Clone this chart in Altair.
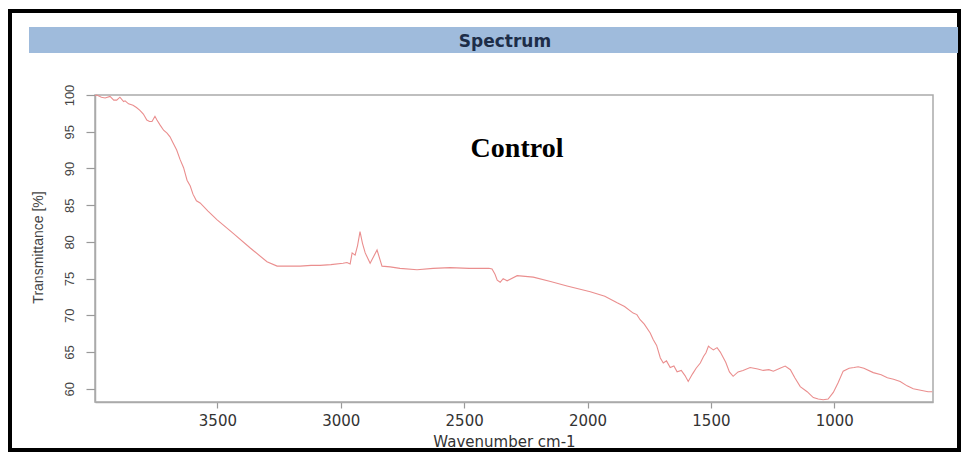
import altair as alt
import pandas as pd

# Spectrum values (wavenumber cm-1, transmittance %)
wavenumber = [3996, 3989, 3970, 3955, 3935, 3920, 3908, 3895, 3880, 3874, 3860, 3842,
              3828, 3814, 3800, 3786, 3775, 3765, 3753, 3745, 3732, 3718, 3704, 3692,
              3680, 3665, 3651, 3637, 3623, 3610, 3599, 3585, 3570, 3538, 3501, 3437,
              3368, 3299, 3258, 3200, 3165, 3120, 3084, 3040, 2991, 2975, 2962, 2954,
              2942, 2932, 2922, 2912, 2901, 2881, 2853, 2833, 2800, 2760, 2691, 2626,
              2557, 2480, 2400, 2387, 2375, 2366, 2354, 2342, 2326, 2285, 2220, 2150,
              2083, 1989, 1930, 1880, 1850, 1815, 1800, 1787, 1770, 1746, 1734, 1720,
              1705, 1693, 1680, 1665, 1650, 1637, 1620, 1605, 1592, 1575, 1560, 1543,
              1530, 1520, 1510, 1503, 1490, 1475, 1462, 1440, 1425, 1410, 1390, 1370,
              1341, 1310, 1288, 1265, 1247, 1220, 1199, 1178, 1160, 1138, 1110, 1085,
              1065, 1045, 1025, 1004, 985, 964, 940, 920, 903, 880, 842, 810, 785, 760,
              733, 705, 680, 650, 620, 603]
transmittance = [99.9, 100.0, 99.7, 99.6, 99.8, 99.3, 99.3, 99.7, 99.1, 99.2, 98.8, 98.6,
                 98.3, 97.9, 97.4, 96.6, 96.4, 96.4, 97.1, 96.6, 95.9, 95.2, 94.8, 94.3,
                 93.5, 92.5, 91.2, 90.1, 88.4, 87.6, 86.5, 85.6, 85.3, 84.2, 83.0, 81.2,
                 79.2, 77.3, 76.7, 76.7, 76.7, 76.8, 76.8, 76.9, 77.1, 77.2, 77.0, 78.5,
                 78.2, 79.5, 81.4, 79.8, 78.5, 77.1, 78.9, 76.7, 76.6, 76.4, 76.2, 76.4,
                 76.5, 76.4, 76.4, 76.3, 75.6, 74.8, 74.5, 75.0, 74.7, 75.4, 75.2, 74.6,
                 74.0, 73.2, 72.6, 71.7, 71.2, 70.3, 70.1, 69.4, 68.8, 67.6, 66.7, 65.9,
                 64.2, 63.5, 63.8, 62.9, 63.1, 62.3, 62.5, 61.8, 61.0, 62.0, 62.8, 63.5,
                 64.4, 64.9, 65.8, 65.6, 65.3, 65.6, 65.0, 63.6, 62.3, 61.7, 62.3, 62.5,
                 62.9, 62.7, 62.5, 62.6, 62.4, 62.8, 63.1, 62.6, 61.5, 60.3, 59.6, 58.8,
                 58.6, 58.5, 58.6, 59.5, 60.8, 62.4, 62.8, 62.9, 63.0, 62.8, 62.2, 61.9,
                 61.5, 61.3, 61.0, 60.4, 60.0, 59.8, 59.6, 59.6]

x_ticks = [1000, 1500, 2000, 2500, 3000, 3500]
y_ticks = [60, 65, 70, 75, 80, 85, 90, 95, 100]

spec = pd.DataFrame({"w": wavenumber, "t": transmittance})
one = pd.DataFrame({"a": [0]})

line = alt.Chart(spec).mark_line(color="#ea8e8e", strokeWidth=1.1).encode(
    x=alt.X("w:Q",
            scale=alt.Scale(domain=[600, 3996], reverse=True, nice=False, zero=False),
            axis=alt.Axis(values=x_ticks, title="Wavenumber cm-1", format="d",
                          labelFont="DejaVu Sans", labelFontSize=15, labelColor="#333333",
                          tickSize=6, labelPadding=5,
                          titleFont="DejaVu Sans", titleFontSize=15, titleFontWeight="normal",
                          titleColor="#333333", titleX=409, titleY=39,
                          titleBaseline="middle", titleAlign="center")),
    y=alt.Y("t:Q",
            scale=alt.Scale(domain=[58.2, 100], nice=False, zero=False),
            axis=alt.Axis(values=y_ticks, title="Transmittance [%]",
                          labelFont="Liberation Sans", labelFontSize=13, labelColor="#444444",
                          labelAngle=270, labelAlign="center", labelBaseline="bottom",
                          tickSize=9, labelPadding=10,
                          titleFont="Liberation Sans", titleFontSize=14,
                          titleFontWeight="normal", titleColor="#444444",
                          titleAngle=270, titleX=-57, titleY=152,
                          titleBaseline="middle", titleAlign="center")),
)

frame = alt.Chart(one).mark_rect(filled=False, stroke="black", strokeWidth=4).encode(
    x=alt.value(-85), x2=alt.value(864), y=alt.value(-84), y2=alt.value(355))

bar = alt.Chart(one).mark_rect(fill="#9fbbdc").encode(
    x=alt.value(-66), x2=alt.value(863), y=alt.value(-68), y2=alt.value(-42))

bar_text = alt.Chart(one).mark_text(
    text="Spectrum", font="DejaVu Sans", fontWeight="bold", fontSize=17,
    color="#1d2d48", align="center", baseline="alphabetic").encode(
    x=alt.value(410), y=alt.value(-48))

control = alt.Chart(one).mark_text(
    text="Control", font="Liberation Serif", fontWeight="bold", fontSize=28,
    color="#000000", align="center", baseline="alphabetic").encode(
    x=alt.value(422), y=alt.value(62))

chart = alt.layer(frame, bar, bar_text, line, control).properties(
    width=838, height=307,
    autosize=alt.AutoSizeParams(type="none"),
    padding={"left": 87, "top": 87, "right": 28, "bottom": 50},
    background="white",
).configure_view(stroke="#aaaaaa", strokeWidth=1.5).configure_axis(
    grid=False, domainColor="#aaaaaa", domainWidth=1.5, tickColor="#999999", tickWidth=1.2
)

chart.save("out.html", embed_options={"renderer": "svg", "actions": False})
